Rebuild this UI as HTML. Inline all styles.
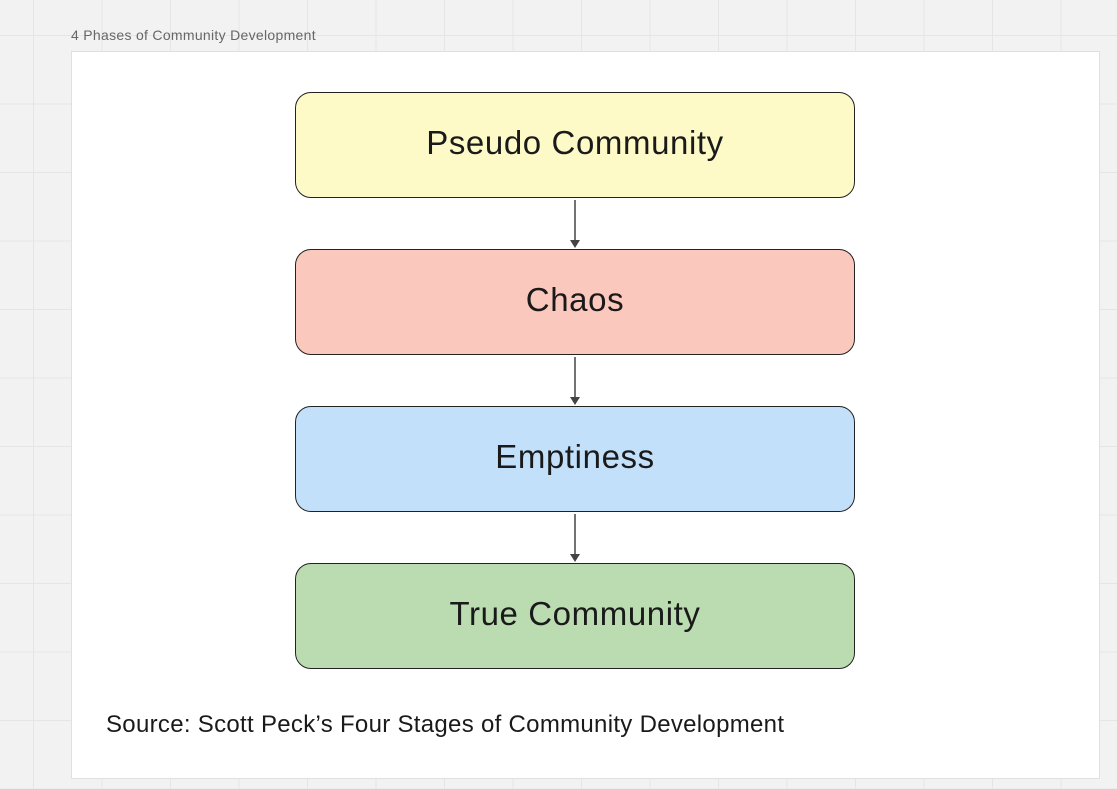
<!DOCTYPE html>
<html><head><style>
html,body{margin:0;padding:0}
body{width:1117px;height:789px;position:relative;overflow:hidden;font-family:"Liberation Sans","DejaVu Sans",sans-serif;
background-color:#f2f2f2;
background-image:linear-gradient(#e5e5e5 1px,transparent 1px),linear-gradient(90deg,#e5e5e5 1px,transparent 1px);
background-size:68.5px 68.5px;background-position:33px 35px;}
.title{position:absolute;left:71px;top:27px;font-size:14px;letter-spacing:0.3px;color:#666}
.frame{position:absolute;left:71px;top:51px;width:1027px;height:726px;background:#fff;border:1px solid #e0e0e0}
.box{position:absolute;left:295px;width:558px;height:104px;border:1.5px solid #222;border-radius:16px;display:flex;align-items:center;justify-content:center;font-size:33px;letter-spacing:0.6px;color:#1a1a1a;box-sizing:content-box;padding-bottom:4px;height:100px}
.src{position:absolute;left:106px;top:711px;font-size:24px;letter-spacing:0.3px;color:#1a1a1a}
</style></head><body>
<div class="title">4 Phases of Community Development</div>
<div class="frame"></div>
<div class="box" style="top:92px;background:#fefac8">Pseudo Community</div>
<div class="box" style="top:249px;background:#fbc8be">Chaos</div>
<div class="box" style="top:406px;background:#c2e0fa">Emptiness</div>
<div class="box" style="top:563px;background:#badcb0">True Community</div>
<svg style="position:absolute;left:0;top:0" width="1117" height="789">
<g stroke="#444" stroke-width="1.5" fill="#444">
<line x1="575" y1="200" x2="575" y2="242"/><path d="M570 240 L580 240 L575 248 Z" stroke="none"/>
<line x1="575" y1="357" x2="575" y2="399"/><path d="M570 397 L580 397 L575 405 Z" stroke="none"/>
<line x1="575" y1="514" x2="575" y2="556"/><path d="M570 554 L580 554 L575 562 Z" stroke="none"/>
</g></svg>
<div class="src">Source: Scott Peck’s Four Stages of Community Development</div>
</body></html>
